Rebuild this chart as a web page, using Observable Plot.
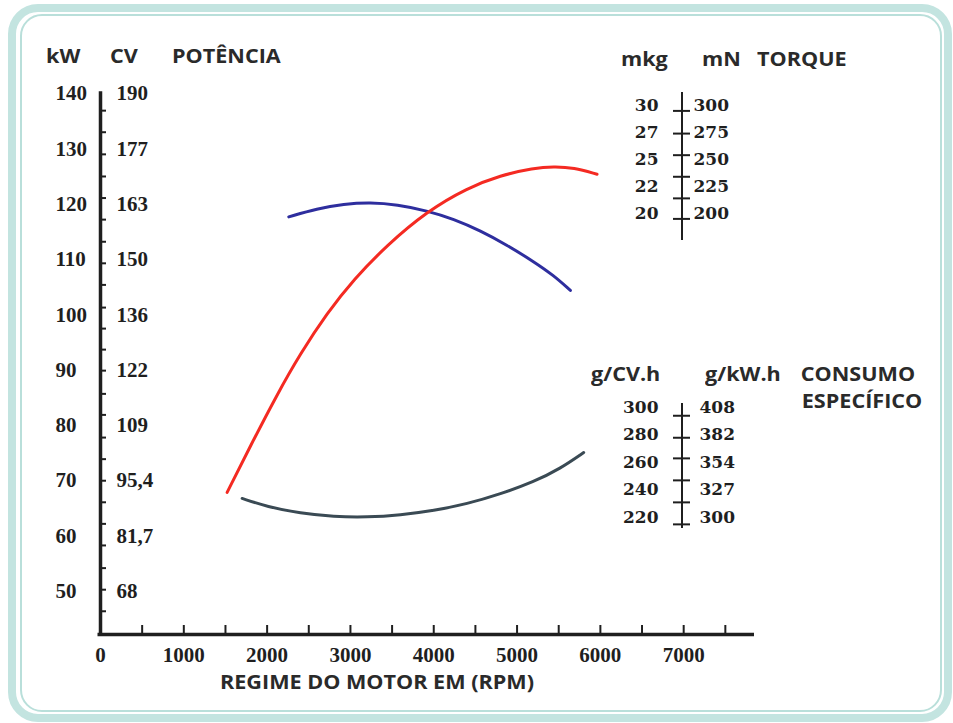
<!DOCTYPE html>
<html>
<head>
<meta charset="utf-8">
<script src="https://cdn.jsdelivr.net/npm/d3@7"></script>
<script src="https://cdn.jsdelivr.net/npm/@observablehq/plot@0.6"></script>
<style>
  body { margin: 0; background: #fff; }
  #wrap { position: relative; width: 953px; height: 723px; overflow: hidden; background: #fff; }
  .frame-outer { position: absolute; left: 8px; top: 4px; width: 944px; height: 718px; box-sizing: border-box; border: 8px solid #c3e4e0; border-radius: 30px; }
  .frame-inner { position: absolute; left: 20px; top: 14px; width: 922px; height: 698px; box-sizing: border-box; border: 2px solid #b9dfda; border-radius: 22px; }
  .lbl { position: absolute; font-family: "Open Sans", sans-serif; font-weight: 700; font-size: 20px; line-height: 20px; color: #2a2a2a; white-space: nowrap; transform-origin: left center; transform: scaleX(1.08); }
  .ctr { transform-origin: center center; transform: translateX(-50%) scaleX(1.08); }
  .layer { position: absolute; }
  .layer svg { overflow: visible; }
</style>
</head>
<body>
<div id="wrap">
  <div class="frame-outer"></div>
  <div class="frame-inner"></div>
</div>
<script>
// ---------- data ----------
const rpmTicks = [500, 1000, 1500, 2000, 2500, 3000, 3500, 4000, 4500, 5000, 5500, 6000, 6500, 7000, 7500];
const rpmLabels = [0, 1000, 2000, 3000, 4000, 5000, 6000, 7000];
const kwLabels = [140, 130, 120, 110, 100, 90, 80, 70, 60, 50];
const cvLabels = ["190", "177", "163", "150", "136", "122", "109", "95,4", "81,7", "68"];
const kwMinorTicks = [136.9, 133.0, 129.0, 125.0, 121.1, 117.2, 113.2, 109.3, 105.4, 101.3, 97.5, 93.7,
                      89.9, 85.7, 81.9, 77.8, 73.9, 70.0, 66.1, 62.2, 58.3, 54.2, 50.3, 46.4];

// Power curve (kW)
const powerRpm = [1520, 1800, 2120, 2400, 2720, 3040, 3440, 3920, 4400, 4800, 5200, 5440, 5680, 5960];
const powerKw  = [67.9, 76.3, 85.6, 93.0, 100.3, 106.4, 112.6, 118.7, 122.9, 125.2, 126.5, 126.8, 126.6, 125.4];

// Torque curve (drawn height, in kW-axis units)
const torqueRpm   = [2260, 2600, 2920, 3240, 3560, 3920, 4240, 4560, 4880, 5200, 5440, 5640];
const torqueLevel = [117.7, 119.2, 120.0, 120.3, 119.9, 118.8, 117.3, 115.2, 112.6, 109.6, 107.1, 104.4];

// Specific consumption curve (drawn height, in kW-axis units)
const consumoRpm   = [1700, 2000, 2400, 2800, 3200, 3600, 4000, 4400, 4800, 5200, 5520, 5800];
const consumoLevel = [66.8, 65.3, 64.1, 63.5, 63.4, 63.8, 64.6, 65.8, 67.6, 69.8, 72.2, 75.1];

// Torque scale inset
const torqueMkg = ["30", "27", "25", "22", "20"];
const torqueMn  = [300, 275, 250, 225, 200];
const torqueTicks = [295, 274, 254, 234, 214, 195];
const torqueAxisExtent = [312, 175];

// Consumption scale inset
const consumoGcv = [300, 280, 260, 240, 220];
const consumoGkw = ["408", "382", "354", "327", "300"];
const consumoTicks = [294, 278, 263, 247, 231, 215];
const consumoAxisExtent = [303, 212];

// ---------- build ----------
const ink = "#1f1f1f";
const serif = "Liberation Serif";
const yBase = 42.2;

const power = powerRpm.map((r, i) => ({rpm: r, v: powerKw[i]}));
const torque = torqueRpm.map((r, i) => ({rpm: r, v: torqueLevel[i]}));
const consumo = consumoRpm.map((r, i) => ({rpm: r, v: consumoLevel[i]}));

const main = Plot.plot({
  width: 953, height: 723,
  marginLeft: 100, marginRight: 199, marginTop: 93, marginBottom: 89,
  x: {domain: [0, 7850], axis: null},
  y: {domain: [yBase, 140], axis: null},
  style: {background: "transparent", overflow: "visible"},
  marks: [
    Plot.ruleY([yBase], {x1: -30, x2: 7850, stroke: ink, strokeWidth: 3.5}),
    Plot.ruleX([0], {y1: yBase, y2: 140.3, stroke: ink, strokeWidth: 3.5}),
    Plot.ruleX(rpmTicks, {x: d => d, y1: yBase, y2: yBase, insetTop: -9, stroke: ink, strokeWidth: 2}),
    Plot.ruleY(kwMinorTicks, {y: d => d, x1: 0, x2: 0, insetRight: -6, stroke: ink, strokeWidth: 2}),
    Plot.text(rpmLabels, {x: d => d, y: yBase, dy: 21, text: d => String(d), fontFamily: serif, fontWeight: "bold", fontSize: 21, fill: ink}),
    Plot.text(kwLabels, {y: d => d, frameAnchor: "left", dx: -45, textAnchor: "start", text: d => String(d), fontFamily: serif, fontWeight: "bold", fontSize: 21, fill: ink}),
    Plot.text(cvLabels, {y: (d, i) => kwLabels[i], frameAnchor: "left", dx: 16, textAnchor: "start", text: d => d, fontFamily: serif, fontWeight: "bold", fontSize: 21, fill: ink}),
    Plot.line(consumo, {x: "rpm", y: "v", stroke: "#3a4a54", strokeWidth: 3, curve: "basis"}),
    Plot.line(torque, {x: "rpm", y: "v", stroke: "#2e2e9e", strokeWidth: 3, curve: "basis"}),
    Plot.line(power, {x: "rpm", y: "v", stroke: "#f42a22", strokeWidth: 3, curve: "basis"})
  ]
});

function inset(left, top, w, h, domain, range, ticks, extent, leftLabels, rightLabels, values, dxRight) {
  const p = Plot.plot({
    width: w, height: h,
    marginLeft: 113, marginRight: w - 113 - 17, marginTop: 0, marginBottom: 0,
    x: {domain: [0, 1], axis: null},
    y: {domain, range, axis: null},
    style: {background: "transparent", overflow: "visible"},
    marks: [
      Plot.ruleX([0.5], {x: d => d, y1: extent[0], y2: extent[1], stroke: ink, strokeWidth: 2}),
      Plot.tickY(ticks, {y: d => d, stroke: ink, strokeWidth: 2}),
      Plot.text(leftLabels, {y: (d, i) => values[i], frameAnchor: "left", textAnchor: "end", dx: -15, text: d => String(d), fontFamily: "DejaVu Serif", fontWeight: "bold", fontSize: 17, fill: ink}),
      Plot.text(rightLabels, {y: (d, i) => values[i], frameAnchor: "right", textAnchor: "start", dx: dxRight, text: d => String(d), fontFamily: "DejaVu Serif", fontWeight: "bold", fontSize: 17, fill: ink})
    ]
  });
  const div = document.createElement("div");
  div.className = "layer";
  div.style.left = left + "px";
  div.style.top = top + "px";
  div.appendChild(p);
  return div;
}

const wrap = document.getElementById("wrap");
const mainDiv = document.createElement("div");
mainDiv.className = "layer";
mainDiv.style.left = "0px"; mainDiv.style.top = "0px";
mainDiv.appendChild(main);
wrap.appendChild(mainDiv);

wrap.appendChild(inset(560, 40, 200, 220, [200, 300], [173, 65], torqueTicks, torqueAxisExtent, torqueMkg, torqueMn, torqueMn, 3));
wrap.appendChild(inset(560, 380, 200, 170, [220, 300], [137, 27], consumoTicks, consumoAxisExtent, consumoGcv, consumoGkw, consumoGcv, 9));

const labels = [
  ["kW", 46, 57, false], ["CV", 110, 57, false], ["POTÊNCIA", 172, 57, false],
  ["mkg", 621, 60, false], ["mN", 702, 60, false], ["TORQUE", 757, 60, false],
  ["g/CV.h", 591, 375, false], ["g/kW.h", 705, 375, false],
  ["CONSUMO", 858, 375, true], ["ESPECÍFICO", 862, 402, true],
  ["REGIME DO MOTOR EM (RPM)", 377, 683, true]
];
for (const [t, x, cy, c] of labels) {
  const s = document.createElement("div");
  s.className = "lbl" + (c ? " ctr" : "");
  s.textContent = t;
  s.style.left = x + "px";
  s.style.top = (cy - 11) + "px";
  wrap.appendChild(s);
}
</script>
</body>
</html>
